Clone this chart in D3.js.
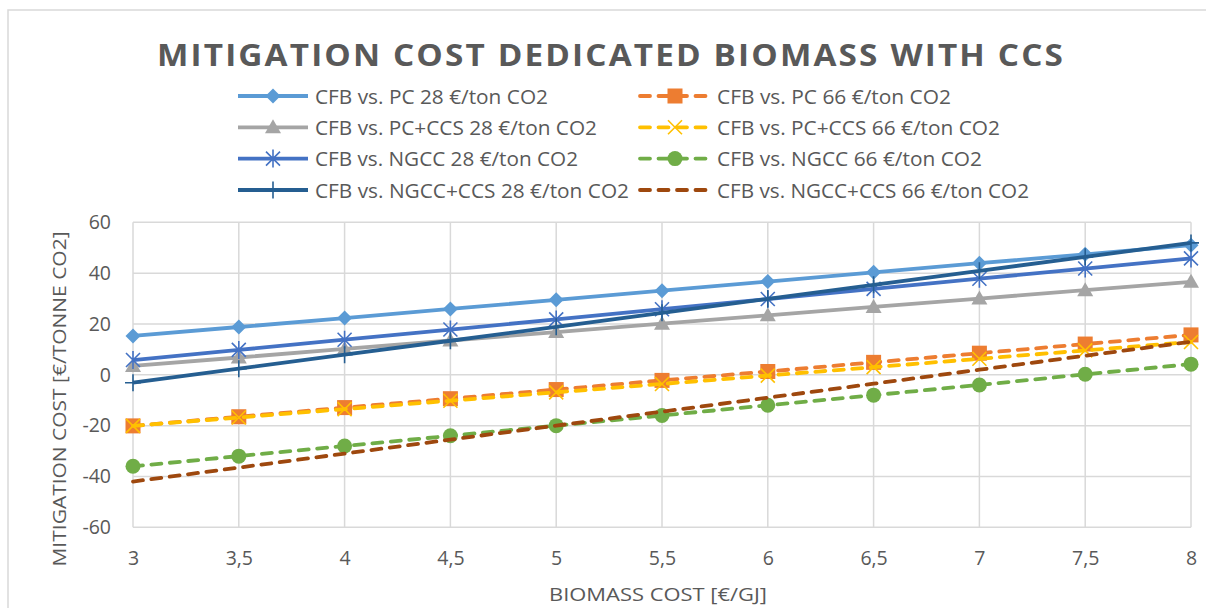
<!DOCTYPE html>
<html>
<head>
<meta charset="utf-8">
<script src="https://cdn.jsdelivr.net/npm/d3@7"></script>
<style>
  html, body { margin: 0; padding: 0; background: #fff; }
  svg { display: block; }
  text { font-family: "Open Sans", "Noto Sans", sans-serif; fill: #595959; }
</style>
</head>
<body>
<svg id="chart" width="1206" height="608"></svg>
<script>
// ---- Data ----
const categories = ["3", "3,5", "4", "4,5", "5", "5,5", "6", "6,5", "7", "7,5", "8"];
const yTicks = [-60, -40, -20, 0, 20, 40, 60];

const pc28      = [15.3, 18.8, 22.3, 25.9, 29.5, 33.1, 36.7, 40.3, 43.9, 47.4, 51.0];
const pc66      = [-20.1, -16.5, -12.9, -9.4, -5.8, -2.2, 1.3, 4.9, 8.5, 12.1, 15.7];
const pcccs28   = [3.5, 6.8, 10.2, 13.5, 16.8, 20.1, 23.4, 26.7, 30.0, 33.3, 36.6];
const pcccs66   = [-20.1, -16.8, -13.5, -10.2, -6.9, -3.6, -0.3, 3.0, 6.3, 9.6, 12.9];
const ngcc28    = [5.8, 9.8, 13.8, 17.8, 21.8, 25.8, 29.8, 33.8, 37.8, 41.8, 45.8];
const ngcc66    = [-36.0, -32.0, -28.0, -24.0, -20.0, -16.0, -12.0, -8.0, -4.0, 0.2, 4.2];
const ngccccs28 = [-3.1, 2.4, 7.9, 13.4, 18.9, 24.4, 29.9, 35.4, 40.9, 46.4, 51.9];
const ngccccs66 = [-42.0, -36.5, -31.0, -25.5, -20.0, -14.5, -9.0, -3.5, 2.0, 7.5, 13.0];

const seriesNames = [
  "CFB vs. PC 28 €/ton CO2", "CFB vs. PC 66 €/ton CO2",
  "CFB vs. PC+CCS 28 €/ton CO2", "CFB vs. PC+CCS 66 €/ton CO2",
  "CFB vs. NGCC 28 €/ton CO2", "CFB vs. NGCC 66 €/ton CO2",
  "CFB vs. NGCC+CCS 28 €/ton CO2", "CFB vs. NGCC+CCS 66 €/ton CO2"
];
const seriesValues = [pc28, pc66, pcccs28, pcccs66, ngcc28, ngcc66, ngccccs28, ngccccs66];
const seriesColors = ["#5B9BD5", "#ED7D31", "#A5A5A5", "#FFC000", "#4472C4", "#70AD47", "#255E91", "#9E480E"];
const seriesDashed = [false, true, false, true, false, true, false, true];
const seriesMarkers = ["diamond", "square", "triangle", "x", "asterisk", "circle", "plus", "none"];

const titleText = "MITIGATION COST DEDICATED BIOMASS WITH CCS";
const xTitle = "BIOMASS COST [€/GJ]";
const yTitle = "MITIGATION COST [€/TONNE CO2]";

// ---- Layout ----
const svg = d3.select("#chart");
const plot = { left: 133, right: 1191, top: 222.3, bottom: 527.3 };

const x = d3.scalePoint().domain(categories).range([plot.left, plot.right]);
const y = d3.scaleLinear().domain([-60, 60]).range([plot.bottom, plot.top]);

// outer frame
svg.append("rect").attr("x", 8).attr("y", 10).attr("width", 1250).attr("height", 650)
  .attr("fill", "none").attr("stroke", "#d9d9d9").attr("stroke-width", 1.5);

// title
svg.append("text").attr("x", 157).attr("y", 65.5)
  .attr("font-size", 31).attr("font-weight", 700)
  .style("letter-spacing", "2px")
  .attr("textLength", 908).attr("lengthAdjust", "spacingAndGlyphs")
  .text(titleText);

// gridlines
const grid = svg.append("g");
grid.selectAll("line.h").data(yTicks).enter().append("line")
  .attr("x1", plot.left).attr("x2", plot.right)
  .attr("y1", d => y(d)).attr("y2", d => y(d))
  .attr("stroke", "#d9d9d9").attr("stroke-width", 1.5);
grid.selectAll("line.v").data(categories).enter().append("line")
  .attr("y1", plot.top).attr("y2", plot.bottom)
  .attr("x1", d => x(d)).attr("x2", d => x(d))
  .attr("stroke", "#d9d9d9").attr("stroke-width", 1.5);

// axes (using d3 axes, then styling)
const yAxis = d3.axisLeft(y).tickValues(yTicks).tickSize(0).tickPadding(22)
  .tickFormat(d => String(d));
const gy = svg.append("g").attr("transform", `translate(${plot.left},0)`).call(yAxis);
gy.select(".domain").remove();
gy.selectAll("text").attr("font-size", 19.5).attr("fill", "#595959")
  .style("font-family", "'Open Sans', sans-serif");

const xAxis = d3.axisBottom(x).tickSize(0).tickPadding(24);
const gx = svg.append("g").attr("transform", `translate(0,${plot.bottom})`).call(xAxis);
gx.select(".domain").remove();
gx.selectAll("text").attr("font-size", 19.5).attr("fill", "#595959")
  .style("font-family", "'Open Sans', sans-serif");

// axis titles
svg.append("text").attr("x", 658).attr("y", 601).attr("text-anchor", "middle")
  .attr("font-size", 19).attr("textLength", 218).attr("lengthAdjust", "spacingAndGlyphs")
  .text(xTitle);
svg.append("text").attr("transform", "translate(66,399) rotate(-90)")
  .attr("text-anchor", "middle").attr("font-size", 19)
  .attr("textLength", 335).attr("lengthAdjust", "spacingAndGlyphs")
  .text(yTitle);

// marker drawing
function drawMarker(g, type, color) {
  switch (type) {
    case "diamond":
      g.append("path").attr("d", "M0,-7.5L7.5,0L0,7.5L-7.5,0Z").attr("fill", color);
      break;
    case "square":
      g.append("rect").attr("x", -7.5).attr("y", -7.5).attr("width", 15).attr("height", 15).attr("fill", color);
      break;
    case "triangle":
      g.append("path").attr("d", "M0,-8L8,6L-8,6Z").attr("fill", color);
      break;
    case "circle":
      g.append("circle").attr("r", 7.5).attr("fill", color);
      break;
    case "x":
      g.append("path").attr("d", "M-7,-7L7,7M-7,7L7,-7").attr("stroke", color).attr("stroke-width", 1.6).attr("fill", "none");
      break;
    case "asterisk":
      g.append("path").attr("d", "M-7,-7L7,7M-7,7L7,-7M0,-9L0,9").attr("stroke", color).attr("stroke-width", 1.6).attr("fill", "none");
      break;
    case "plus":
      g.append("path").attr("d", "M0,-8.5L0,8.5M-8,0L8,0").attr("stroke", color).attr("stroke-width", 1.6).attr("fill", "none");
      break;
  }
}

// series
const line = d3.line().x((d, i) => x(categories[i])).y(d => y(d));
seriesValues.forEach((vals, s) => {
  const g = svg.append("g");
  g.append("path").attr("d", line(vals))
    .attr("fill", "none").attr("stroke", seriesColors[s]).attr("stroke-width", 3.8)
    .attr("stroke-linecap", seriesDashed[s] ? "round" : "butt")
    .attr("stroke-linejoin", "round")
    .attr("stroke-dasharray", seriesDashed[s] ? "10,8.5" : null);
  vals.forEach((v, i) => {
    const mg = g.append("g").attr("transform", `translate(${x(categories[i])},${y(v)})`);
    drawMarker(mg, seriesMarkers[s], seriesColors[s]);
  });
});

// legend
const legendCols = [238, 640];
const legendRows = [96, 127.3, 158.6, 190];
const legendTextWidths = [233, 234, 282, 283, 263, 265, 314, 312];
seriesNames.forEach((name, s) => {
  const col = s % 2, row = Math.floor(s / 2);
  const lx = legendCols[col], ly = legendRows[row];
  const g = svg.append("g");
  g.append("line").attr("x1", lx).attr("x2", lx + 70).attr("y1", ly).attr("y2", ly)
    .attr("stroke", seriesColors[s]).attr("stroke-width", 3.8)
    .attr("stroke-linecap", seriesDashed[s] ? "round" : "butt")
    .attr("stroke-dasharray", seriesDashed[s] ? "10,8.5" : null);
  const mg = g.append("g").attr("transform", `translate(${lx + 35},${ly})`);
  drawMarker(mg, seriesMarkers[s], seriesColors[s]);
  g.append("text").attr("x", lx + 77).attr("y", ly + 7.5)
    .attr("font-size", 20.5)
    .attr("textLength", legendTextWidths[s]).attr("lengthAdjust", "spacingAndGlyphs")
    .text(name);
});
</script>
</body>
</html>
